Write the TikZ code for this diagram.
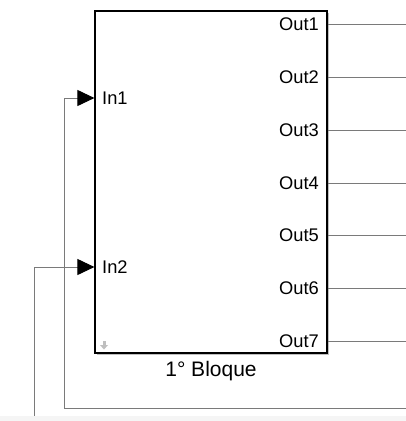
\documentclass[tikz,border=0pt]{standalone}
\usepackage{fontspec}
\setmainfont{Liberation Sans}
\usetikzlibrary{arrows.meta}
\definecolor{wire}{HTML}{7A7A7A}
\begin{document}
\begin{tikzpicture}[x=1pt,y=-1pt,
  port/.style={font=\fontsize{18.3}{18.3}\selectfont, inner sep=0pt},
  wirestyle/.style={draw=wire, line width=1pt},
  inarrow/.style={wirestyle, -{Triangle[length=17pt,width=16pt,fill=black,color=black]}}]
\useasboundingbox (0,0) rectangle (406,421);
\fill[black!4] (0,415.5) rectangle (406,421);
% shadow
\fill[black!25] (97,13) rectangle (329,355);
\node[draw=black, fill=white, line width=1.2pt, minimum width=232pt, minimum height=342pt, inner sep=0pt] (blk) at (211,182) {};
% small icon
\fill[black!25] (102.5,341) rectangle (105.5,345);
\fill[black!25] (100,345) -- (108,345) -- (104,349.5) -- cycle;
% outputs
\foreach \i/\y in {1/24,2/77,3/130,4/183,5/235,6/288,7/341}{
  \node[port, anchor=east] (o\i) at (319,\y) {Out\i};
  \coordinate (e\i) at (406,\y);
  \draw[wirestyle] (blk.east |- o\i) -- (e\i);
}
% inputs
\node[port, anchor=west] (i1) at (102,98) {In1};
\node[port, anchor=west] (i2) at (102,267) {In2};
\coordinate (p1) at (blk.west |- i1);
\coordinate (p2) at (blk.west |- i2);
\coordinate (r1) at (406,408);
\coordinate (s2) at (34.5,415.5);
\draw[inarrow] (r1) -- (64,408) -- (64,98) -- (p1);
\draw[inarrow] (s2) -- (34.5,267) -- (p2);
% label
\node[font=\fontsize{21}{21}\selectfont, inner sep=0pt] (lbl) at (211,371) {1° Bloque};
\end{tikzpicture}
\end{document}
